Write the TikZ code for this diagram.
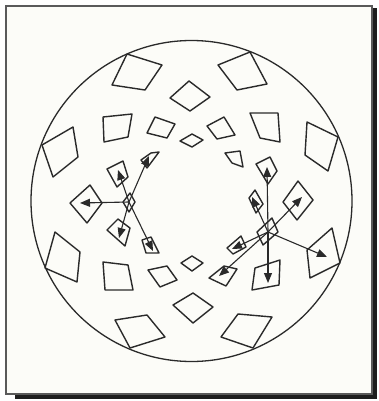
\documentclass[tikz,border=0pt]{standalone}
\usepackage{tikz}
\usepackage{xcolor}
\usetikzlibrary{arrows.meta}

\definecolor{colorOne}{HTML}{2A2A2A}
\definecolor{colorTwo}{HTML}{FCFCF8}
\definecolor{colorThree}{HTML}{5A5A5A}
\definecolor{colorFour}{HTML}{1E1E1E}
\def\colorOne{colorOne}
\def\colorTwo{colorTwo}
\def\colorThree{colorThree}
\def\colorFour{colorFour}

% Quadrilatere : #1..#4 = sommets (en pixels)
\newcommand{\quadri}[4]{
	\draw[line width=1.4pt, color=\colorOne, line join=round] #1 -- #2 -- #3 -- #4 -- cycle;
}

\tikzset{
	fleche/.style={line width=1.1pt, color=\colorOne, -{Triangle[length=10pt, width=8pt]}},
}

\begin{document}
\begin{tikzpicture}[x=1pt, y=-1pt]

    \useasboundingbox (0,0) rectangle (378,401);

    % Fond et cadre avec ombre
    \fill[white] (0,0) rectangle (378,401);
    \fill[\colorFour] (372,8) rectangle (377,399);
    \fill[\colorFour] (15,394) rectangle (377,399);
    \draw[line width=1.4pt, color=\colorThree, fill=\colorTwo] (6,6) rectangle (372,394);

    % Cercle
    \draw[line width=1.3pt, color=\colorOne] (191.5,201) circle[radius=160.5];

    % Couronne exterieure
    \quadri{(127,54)}{(162,65)}{(145,90)}{(112,85)}
    \quadri{(218,65)}{(250,52)}{(267,84)}{(237,90)}
    \quadri{(42,145)}{(73,127)}{(78,157)}{(53,177)}
    \quadri{(307,122)}{(338,137)}{(328,171)}{(305,155)}
    \quadri{(55,232)}{(80,252)}{(77,282)}{(45,268)}
    \quadri{(307,250)}{(332,228)}{(340,263)}{(310,278)}
    \quadri{(115,320)}{(147,315)}{(165,337)}{(130,348)}
    \quadri{(221,337)}{(238,314)}{(272,317)}{(253,348)}

    % Losanges haut et bas
    \quadri{(170,98)}{(189,81)}{(210,97)}{(190,111)}
    \quadri{(173,305)}{(193,293)}{(213,307)}{(193,323)}

    % Deuxieme couronne
    \quadri{(103,117)}{(132,114)}{(128,137)}{(104,142)}
    \quadri{(250,113)}{(278,113)}{(280,142)}{(260,138)}
    \quadri{(103,262)}{(128,265)}{(133,290)}{(105,290)}
    \quadri{(255,268)}{(280,260)}{(279,285)}{(252,290)}

    % Troisieme couronne
    \quadri{(147,133)}{(155,117)}{(175,124)}{(167,138)}
    \quadri{(207,126)}{(224,117)}{(235,135)}{(217,139)}
    \quadri{(148,270)}{(167,266)}{(177,280)}{(160,287)}
    \quadri{(209,278)}{(224,266)}{(237,269)}{(226,286)}
    \quadri{(70,203)}{(90,185)}{(102,203)}{(87,223)}
    \quadri{(283,202)}{(298,181)}{(313,200)}{(297,220)}

    % Couronne interieure
    \quadri{(180,141)}{(192,134)}{(203,140)}{(192,147)}
    \quadri{(181,263)}{(192,256)}{(203,263)}{(192,271)}
    \quadri{(141,160)}{(151,153)}{(159,152)}{(147,168)}
    \quadri{(225,153)}{(240,151)}{(243,167)}{(232,163)}
    \quadri{(142,240)}{(151,237)}{(159,253)}{(146,253)}
    \quadri{(227,248)}{(241,236)}{(246,247)}{(233,254)}
    \quadri{(107,169)}{(123,161)}{(128,177)}{(117,187)}
    \quadri{(256,164)}{(270,157)}{(277,171)}{(268,184)}
    \quadri{(107,230)}{(118,219)}{(130,228)}{(125,246)}
    \quadri{(257,232)}{(272,218)}{(278,232)}{(263,245)}
    \quadri{(123,202)}{(130,193)}{(135,202)}{(129,212)}
    \quadri{(249,198)}{(255,190)}{(263,204)}{(256,213)}

    % Etoile gauche
    \coordinate (cg) at (129,202);
    \coordinate (g1) at (80,203);
    \coordinate (g2) at (118,170);
    \coordinate (g3) at (149,156);
    \coordinate (g4) at (119,238);
    \coordinate (g5) at (153,251);
    \foreach \b in {g1,g2,g3,g4,g5}
        \draw[fleche] (cg) -- (\b);

    % Etoile droite
    \coordinate (cd) at (268,232);
    \coordinate (d1) at (267,167);
    \coordinate (d2) at (302,197);
    \coordinate (d3) at (327,257);
    \coordinate (d4) at (268,283);
    \coordinate (d5) at (232,249);
    \coordinate (d6) at (219,276);
    \coordinate (d7) at (252,197);
    \foreach \b in {d1,d2,d3,d4,d5,d6,d7}
        \draw[fleche] (cd) -- (\b);

\end{tikzpicture}
\end{document}
